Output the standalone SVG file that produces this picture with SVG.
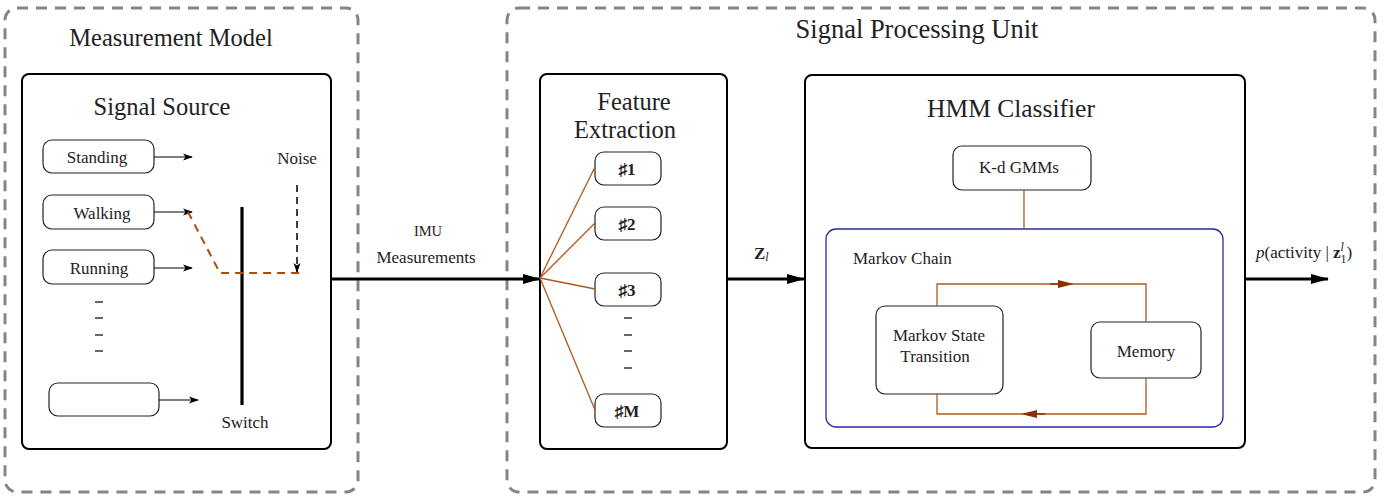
<svg xmlns="http://www.w3.org/2000/svg" width="1384" height="497" viewBox="0 0 1384 497" font-family="'Liberation Serif','Times New Roman',serif">
<style>
text{font-family:"Liberation Serif","Times New Roman",serif;fill:#222}
.outer{fill:none;stroke:#858585;stroke-width:3;stroke-dasharray:11,8}
.big{fill:#fff;stroke:#000;stroke-width:2}
.sm{fill:#fff;stroke:#222;stroke-width:1.2}
.blk{stroke:#000;fill:none}
.br{stroke:#b0581c;fill:none;stroke-width:1.3}
.t20{font-size:24.5px}
.t14{font-size:17px}
</style>
<defs>
<marker id="ah" markerWidth="10" markerHeight="8" refX="9" refY="4" orient="auto" markerUnits="userSpaceOnUse"><path d="M0,0.5 L10,4 L0,7.5 L2.5,4z" fill="#000"/></marker>
<marker id="ahb" markerWidth="18" markerHeight="10" refX="17" refY="5" orient="auto" markerUnits="userSpaceOnUse"><path d="M0,0 L18,5 L0,10z" fill="#000"/></marker>
<marker id="ahr" markerWidth="16" markerHeight="10" refX="8" refY="5" orient="auto" markerUnits="userSpaceOnUse"><path d="M0,1 L16,5 L0,9z" fill="#8b3000"/></marker>
</defs>

<g id="measurement-model">
<rect class="outer" x="5" y="8" width="353" height="484" rx="12"/>
<text class="t20" x="171" y="46" text-anchor="middle">Measurement Model</text>
</g>
<g id="signal-processing-unit">
<rect class="outer" x="507" y="8" width="868" height="484" rx="12"/>
<text x="917" y="38" text-anchor="middle" font-size="26.5">Signal Processing Unit</text>
</g>

<g id="signal-source">
<rect class="big" x="22" y="74" width="309" height="375" rx="7"/>
<text class="t20" x="162" y="115" text-anchor="middle">Signal Source</text>
</g>
<g id="standing"><rect class="sm" x="43" y="140" width="111" height="33" rx="9"/><text class="t14" x="97" y="163" text-anchor="middle">Standing</text></g>
<g id="walking"><rect class="sm" x="43" y="195" width="111" height="34" rx="9"/><text class="t14" x="102" y="219" text-anchor="middle">Walking</text></g>
<g id="running"><rect class="sm" x="43" y="250" width="111" height="34" rx="9"/><text class="t14" x="99" y="274" text-anchor="middle">Running</text></g>
<g id="empty-source"><rect class="sm" x="49" y="383" width="110" height="33" rx="9"/></g>
<g id="switch">
<line x1="242" y1="207" x2="242" y2="405" stroke="#000" stroke-width="3.2"/>
<text class="t14" x="245" y="428" text-anchor="middle">Switch</text>
</g>
<g id="noise"><text class="t14" x="297" y="164" text-anchor="middle">Noise</text></g>
<g id="feature-extraction">
<rect class="big" x="540" y="74" width="187" height="375" rx="7"/>
<text class="t20" x="634" y="110" text-anchor="middle">Feature</text>
<text class="t20" x="625" y="138" text-anchor="middle">Extraction</text>
</g>
<g id="f1"><rect class="sm" x="595" y="152" width="66" height="33" rx="9"/><text class="t14" x="627" y="175" text-anchor="middle" font-weight="bold">♯1</text></g>
<g id="f2"><rect class="sm" x="595" y="207" width="66" height="33" rx="9"/><text class="t14" x="627" y="230" text-anchor="middle" font-weight="bold">♯2</text></g>
<g id="f3"><rect class="sm" x="595" y="273" width="66" height="33" rx="9"/><text class="t14" x="627" y="296" text-anchor="middle" font-weight="bold">♯3</text></g>
<g id="fM"><rect class="sm" x="595" y="394" width="66" height="33" rx="9"/><text class="t14" x="627" y="417" text-anchor="middle" font-weight="bold">♯M</text></g>

<g id="hmm-classifier">
<rect class="big" x="805" y="75" width="440" height="373" rx="7"/>
<text x="1011" y="117" text-anchor="middle" font-size="25.5">HMM Classifier</text>
</g>
<g id="kd-gmms"><rect class="sm" x="953" y="146" width="138" height="44" rx="9"/><text class="t14" x="1019" y="173" text-anchor="middle">K-d GMMs</text></g>
<g id="markov-chain">
<rect x="826" y="229" width="397" height="198" rx="10" fill="none" stroke="#2a2a9a" stroke-width="1.3"/>
<text class="t14" x="853" y="264">Markov Chain</text>
</g>
<g id="markov-state"><rect class="sm" x="876" y="306" width="127" height="88" rx="9"/><text class="t14" x="939" y="341" text-anchor="middle">Markov State</text><text class="t14" x="935" y="362" text-anchor="middle">Transition</text></g>
<g id="memory"><rect class="sm" x="1091" y="322" width="110" height="56" rx="9"/><text class="t14" x="1146" y="357" text-anchor="middle">Memory</text></g>

<g id="connectors">
<line class="blk" x1="154" y1="157" x2="192" y2="157" marker-end="url(#ah)"/>
<line class="blk" x1="154" y1="212" x2="192" y2="212" marker-end="url(#ah)"/>
<line class="blk" x1="154" y1="268" x2="192" y2="268" marker-end="url(#ah)"/>
<line class="blk" x1="159" y1="400" x2="198" y2="400" marker-end="url(#ah)"/>
<g stroke="#000" stroke-width="1.2">
<line x1="95" y1="302" x2="103" y2="302"/><line x1="95" y1="318" x2="103" y2="318"/><line x1="95" y1="335" x2="103" y2="335"/><line x1="95" y1="351" x2="103" y2="351"/>
<line x1="624" y1="318" x2="632" y2="318"/><line x1="624" y1="335" x2="632" y2="335"/><line x1="624" y1="351" x2="632" y2="351"/><line x1="624" y1="368" x2="632" y2="368"/>
</g>
<line class="blk" x1="297" y1="185" x2="297" y2="272" stroke-width="1.5" stroke-dasharray="7,5" marker-end="url(#ah)"/>
<polyline points="188,212 220,273 301,273" fill="none" stroke="#b04a0a" stroke-width="2" stroke-dasharray="8,6"/>
<line x1="331" y1="279" x2="540" y2="279" stroke="#000" stroke-width="3" marker-end="url(#ahb)"/>
<text x="428" y="236" text-anchor="middle" font-size="14.5">IMU</text>
<text class="t14" x="426" y="263" text-anchor="middle">Measurements</text>
<g class="br">
<line x1="540" y1="278" x2="595" y2="167"/>
<line x1="540" y1="278" x2="595" y2="223"/>
<line x1="540" y1="278" x2="595" y2="289"/>
<line x1="540" y1="278" x2="595" y2="410"/>
</g>
<line x1="727" y1="279" x2="804" y2="279" stroke="#000" stroke-width="3" marker-end="url(#ahb)"/>
<text x="754" y="259" font-size="17" font-weight="bold">Z<tspan font-size="12" font-weight="normal" font-style="italic" dy="2">l</tspan></text>
<line class="br" x1="1024" y1="190" x2="1024" y2="229"/>
<polyline class="br" points="937,306 937,284 1146,284 1146,322"/>
<polyline class="br" points="1146,378 1146,414 937,414 937,394"/>
<line x1="1050" y1="284" x2="1066" y2="284" stroke="#8b3000" stroke-width="1.5" marker-end="url(#ahr)"/>
<line x1="1045" y1="414" x2="1029" y2="414" stroke="#8b3000" stroke-width="1.5" marker-end="url(#ahr)"/>
<line x1="1245" y1="279" x2="1328" y2="279" stroke="#000" stroke-width="3" marker-end="url(#ahb)"/>
<text x="1256" y="258" font-size="17"><tspan font-style="italic">p</tspan>(activity | <tspan font-weight="bold">z</tspan><tspan font-size="12" dy="-7" font-style="italic">l</tspan><tspan font-size="12" dx="-3.5" dy="12">1</tspan><tspan dy="-5">)</tspan></text>
</g>
</svg>
